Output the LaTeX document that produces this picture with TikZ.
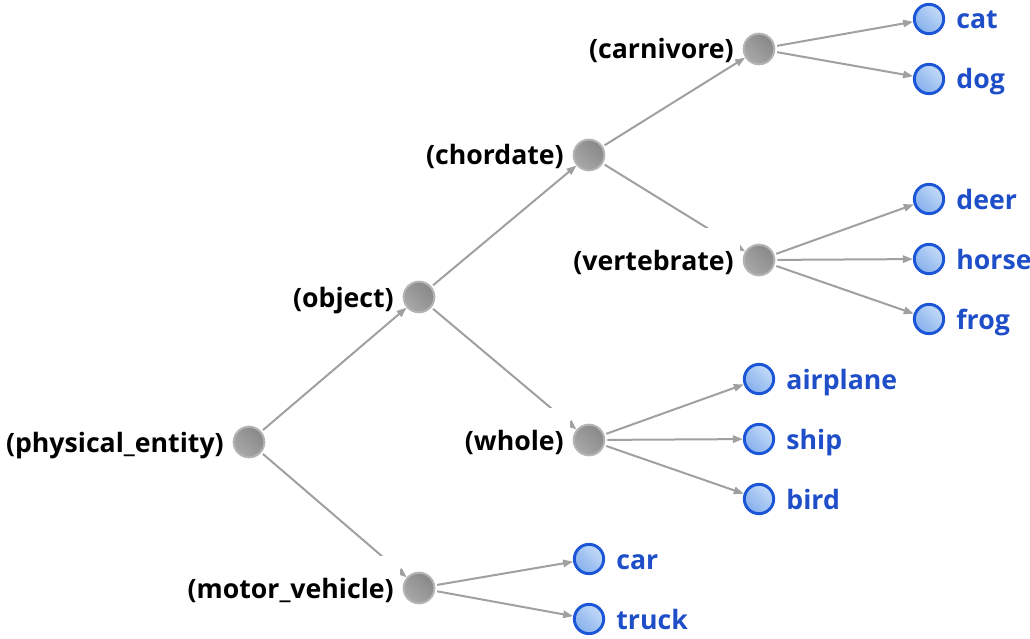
\documentclass[tikz,border=0pt]{standalone}
\usepackage{fontspec}
\setmainfont{Open Sans}
\usetikzlibrary{arrows.meta,calc}
\definecolor{edgegray}{HTML}{A0A0A0}
\definecolor{nodegraydark}{HTML}{888888}
\definecolor{nodegraylight}{HTML}{A8A8A8}
\definecolor{rimgray}{HTML}{B4B4B4}
\definecolor{leafrim}{HTML}{1A56D6}
\definecolor{leaflight}{HTML}{C4DBF8}
\definecolor{leafdark}{HTML}{86B0EC}
\definecolor{leaftext}{HTML}{1F4FC8}
\begin{document}
\begin{tikzpicture}[x=0.75pt,y=-0.75pt,
  inner/.style={circle,inner sep=0pt,minimum size=23pt,line width=1.5pt,draw=rimgray,
    top color=nodegraydark,bottom color=nodegraylight,shading angle=-45},
  leaf/.style={circle,inner sep=0pt,minimum size=22pt,line width=2.2pt,draw=leafrim,
    top color=leaflight,bottom color=leafdark,shading angle=-45},
  edge/.style={draw=edgegray,line width=1.5pt,shorten <=1.5pt,
    -{Triangle[length=7.5pt,width=5.5pt]}},
  lab/.style={fill=white,inner xsep=5pt,inner ysep=0pt,text height=31.5pt,text depth=0pt,
    font=\bfseries\fontsize{20}{24}\selectfont,anchor=base east},
  leaflab/.style={inner sep=0pt,text=leaftext,font=\bfseries\fontsize{20}{24}\selectfont,anchor=base west}]
\useasboundingbox (0,0) rectangle (1030,638);
% internal nodes
\node[inner] (pe) at (249,442) {};
\node[inner] (ob) at (419,297) {};
\node[inner] (mv) at (419,588) {};
\node[inner] (ch) at (589,155) {};
\node[inner] (wh) at (589,440) {};
\node[inner] (ca) at (759,49) {};
\node[inner] (ve) at (759,260) {};
% leaves
\node[leaf] (cat) at (929,19) {};
\node[leaf] (dog) at (929,79) {};
\node[leaf] (deer) at (929,199) {};
\node[leaf] (horse) at (929,259) {};
\node[leaf] (frog) at (929,319) {};
\node[leaf] (airplane) at (759,379) {};
\node[leaf] (ship) at (759,439) {};
\node[leaf] (bird) at (759,499) {};
\node[leaf] (car) at (589,559) {};
\node[leaf] (truck) at (589,619) {};
% edges
\draw[edge] (pe) -- (ob);
\draw[edge] (pe) -- (mv);
\draw[edge] (ob) -- (ch);
\draw[edge] (ob) -- (wh);
\draw[edge] (ch) -- (ca);
\draw[edge] (ch) -- (ve);
\draw[edge] (ca) -- (cat);
\draw[edge] (ca) -- (dog);
\draw[edge] (ve) -- (deer);
\draw[edge] (ve) -- (horse);
\draw[edge] (ve) -- (frog);
\draw[edge] (wh) -- (airplane);
\draw[edge] (wh) -- (ship);
\draw[edge] (wh) -- (bird);
\draw[edge] (mv) -- (car);
\draw[edge] (mv) -- (truck);
% labels of internal nodes
\node[lab] (lpe) at ($(pe.west)+(-2,10)$) {(physical\_entity)};
\node[lab] (lob) at ($(ob.west)+(-2,10)$) {(object)};
\node[lab] (lmv) at ($(mv.west)+(-2,10)$) {(motor\_vehicle)};
\node[lab] (lch) at ($(ch.west)+(-2,10)$) {(chordate)};
\node[lab] (lwh) at ($(wh.west)+(-2,10)$) {(whole)};
\node[lab] (lca) at ($(ca.west)+(-2,10)$) {(carnivore)};
\node[lab] (lve) at ($(ve.west)+(-2,10)$) {(vertebrate)};
% labels of leaves
\node[leaflab] (lcat) at ($(cat.east)+(11,10)$) {cat};
\node[leaflab] (ldog) at ($(dog.east)+(11,10)$) {dog};
\node[leaflab] (ldeer) at ($(deer.east)+(11,10)$) {deer};
\node[leaflab] (lhorse) at ($(horse.east)+(11,10)$) {horse};
\node[leaflab] (lfrog) at ($(frog.east)+(11,10)$) {frog};
\node[leaflab] (lairplane) at ($(airplane.east)+(11,10)$) {airplane};
\node[leaflab] (lship) at ($(ship.east)+(11,10)$) {ship};
\node[leaflab] (lbird) at ($(bird.east)+(11,10)$) {bird};
\node[leaflab] (lcar) at ($(car.east)+(11,10)$) {car};
\node[leaflab] (ltruck) at ($(truck.east)+(11,10)$) {truck};
\end{tikzpicture}
\end{document}
